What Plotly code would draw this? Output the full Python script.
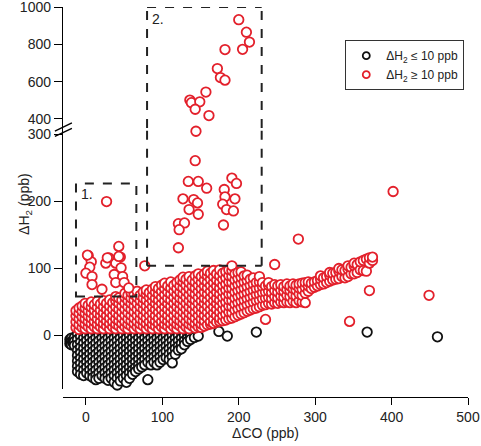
import plotly.graph_objects as go

# values; dense clouds as (dCO, [dH2 values]) columns
black_cols = [
    (-21, [-6, -12]), (-19, [-4, -9, -14]), (-17, [-7, -11]), (-15, [-3, -9, -15]),
    (-11, [2, -6, -14, -22, -30, -38, -46, -54]),
    (-7, [-2, -10, -18, -26, -34, -42, -50, -58]),
    (-3, [4, -4, -12, -20, -28, -36, -44, -52, -60]),
    (1, [0, -8, -16, -24, -32, -40, -48, -56]),
    (5, [4, -4, -12, -20, -28, -36, -44, -52, -60]),
    (9, [0, -8, -16, -24, -32, -40, -48, -56, -63]),
    (13, [4, -4, -12, -20, -28, -36, -44, -52, -60, -66]),
    (17, [0, -8, -16, -24, -32, -40, -48, -56, -64]),
    (21, [4, -4, -12, -20, -28, -36, -44, -52, -60]),
    (25, [0, -8, -16, -24, -32, -40, -48, -56, -64]),
    (29, [4, -4, -12, -20, -28, -36, -44, -52, -60, -67]),
    (33, [0, -8, -16, -24, -32, -40, -48, -56, -64]),
    (37, [4, -4, -12, -20, -28, -36, -44, -52, -60, -70]),
    (41, [0, -8, -16, -24, -32, -40, -48, -56, -64, -74]),
    (45, [4, -4, -12, -20, -28, -36, -44, -52, -60, -68]),
    (49, [0, -8, -16, -24, -32, -40, -48, -56, -64]),
    (53, [4, -4, -12, -20, -28, -36, -44, -52, -60, -70]),
    (57, [0, -8, -16, -24, -32, -40, -48, -56, -64]),
    (61, [4, -4, -12, -20, -28, -36, -44, -52, -58]),
    (65, [0, -8, -16, -24, -32, -40, -48, -54]),
    (69, [4, -4, -12, -20, -28, -36, -44, -50]),
    (73, [0, -8, -16, -24, -32, -40, -47]),
    (77, [4, -4, -12, -20, -28, -36, -44]),
    (81, [0, -8, -16, -24, -32, -40, -66]),
    (85, [4, -4, -12, -20, -28, -36, -44]),
    (89, [0, -8, -16, -24, -32, -40]),
    (93, [4, -4, -12, -20, -28, -36, -44]),
    (97, [0, -8, -16, -24, -32, -40]),
    (101, [4, -4, -12, -20, -28, -36]),
    (105, [0, -8, -16, -24, -33]),
    (109, [4, -4, -12, -20, -28, -36]),
    (113, [0, -8, -16, -24, -32, -41]),
    (117, [4, -4, -12, -20, -28]),
    (121, [0, -8, -16, -22]),
    (125, [4, -4, -12, -20]),
    (129, [0, -8, -14]),
    (133, [3, -4, -9]),
    (137, [0, -6]),
    (142, [-3]),
    (147, [-1]),
]
black_outliers = [(174, 6), (185, -1), (223, 5), (368, 5), (460, -2)]

red_cols = [
    (-13, [12, 20, 29, 37]), (-9, [9, 16, 25, 33, 41]), (-5, [12, 20, 28, 36, 44]),
    (-1, [10, 17, 25, 33, 41, 48]), (3, [13, 21, 29, 37, 45]),
    (7, [10, 18, 26, 34, 42, 50]), (11, [13, 21, 29, 38, 46]),
    (15, [10, 17, 25, 33, 42, 51]), (19, [13, 21, 30, 38, 47]),
    (23, [10, 18, 26, 34, 43, 52]), (27, [14, 22, 30, 39, 48]),
    (31, [10, 18, 26, 35, 44, 53]), (35, [13, 21, 30, 39, 49]),
    (39, [10, 17, 25, 34, 43, 52, 58]), (43, [14, 22, 30, 39, 48, 56]),
    (47, [10, 18, 26, 35, 44, 53]), (51, [13, 21, 30, 39, 48, 57, 63]),
    (55, [10, 17, 25, 34, 43, 52, 60]), (59, [14, 22, 30, 39, 48, 56, 64]),
    (63, [10, 18, 26, 35, 44, 53, 61]), (67, [13, 21, 30, 39, 48, 57, 66]),
    (71, [10, 17, 25, 34, 43, 52, 60]), (75, [14, 22, 30, 39, 48, 56, 65]),
    (79, [10, 18, 26, 35, 44, 53, 62, 68]), (83, [13, 21, 30, 39, 48, 57, 64]),
    (87, [10, 17, 25, 34, 43, 52, 60, 69]), (91, [14, 22, 30, 39, 48, 56, 65, 73]),
    (95, [10, 18, 26, 35, 44, 53, 62, 70]), (99, [13, 21, 30, 39, 48, 57, 66, 75]),
    (103, [10, 17, 25, 34, 43, 52, 61, 70, 78]), (107, [14, 22, 30, 39, 48, 56, 65, 74]),
    (111, [10, 18, 26, 35, 44, 53, 62, 71, 80]), (115, [13, 21, 30, 39, 48, 57, 66, 75]),
    (119, [10, 17, 25, 34, 43, 52, 61, 70, 79]), (123, [14, 22, 30, 39, 48, 56, 65, 74, 83]),
    (127, [10, 18, 26, 35, 44, 53, 62, 71, 80, 87]), (131, [13, 21, 30, 39, 48, 57, 66, 75, 84]),
    (135, [10, 17, 25, 34, 43, 52, 61, 70, 79, 88]), (139, [14, 22, 30, 39, 48, 56, 65, 74, 83]),
    (143, [11, 18, 26, 35, 44, 53, 62, 71, 80, 89]), (147, [13, 21, 30, 39, 48, 57, 66, 75, 84, 92]),
    (151, [12, 17, 25, 34, 43, 52, 61, 70, 79, 88]), (155, [14, 22, 30, 39, 48, 56, 65, 74, 83, 92]),
    (159, [16, 26, 35, 44, 53, 62, 71, 80, 89, 96]), (163, [17, 21, 30, 39, 48, 57, 66, 75, 84, 93]),
    (167, [18, 25, 34, 43, 52, 61, 70, 79, 88, 97]), (171, [20, 30, 39, 48, 56, 65, 74, 83, 92]),
    (175, [21, 26, 35, 44, 53, 62, 71, 80, 89, 98]), (179, [22, 30, 39, 48, 57, 66, 75, 84, 93]),
    (183, [23, 32, 41, 50, 59, 68, 77, 86, 95]), (187, [25, 35, 44, 53, 62, 71, 80, 89, 98]),
    (191, [26, 34, 43, 52, 61, 70, 79, 88, 97, 104]), (195, [28, 38, 47, 56, 65, 74, 83, 92]),
    (199, [30, 40, 49, 58, 67, 76, 85, 94]), (203, [32, 42, 51, 60, 69, 78, 87, 95]),
    (207, [34, 44, 53, 62, 71, 80, 89]), (211, [36, 46, 55, 64, 73, 82, 90]),
    (215, [38, 48, 57, 66, 75, 84]), (219, [40, 50, 59, 68, 77, 86]),
    (223, [41, 52, 61, 70, 79]), (227, [43, 53, 62, 71, 80, 88]),
    (231, [45, 55, 64, 73, 79]), (235, [46, 56, 65, 74]), (239, [48, 57, 66, 75, 79]),
    (243, [47, 55, 64, 73]), (247, [49, 58, 67, 76]), (251, [48, 56, 65, 74]),
    (255, [50, 59, 68, 76]), (259, [49, 57, 66, 73]), (263, [50, 60, 69, 77]),
    (267, [49, 58, 67, 74]), (271, [51, 61, 70, 77]), (275, [49, 59, 68, 75]),
    (279, [52, 62, 71, 77]), (283, [50, 60, 69, 78]), (287, [49, 63, 72, 79]),
    (291, [66, 74, 80]), (295, [70, 78]), (299, [72, 80]), (303, [74, 82]),
    (307, [76, 84, 89]), (311, [77, 86]), (315, [79, 88]), (319, [81, 90, 94]),
    (323, [83, 93]), (327, [84, 94]), (331, [85, 96, 100]), (335, [88, 98]),
    (339, [86, 97]), (343, [88, 99, 104]), (347, [92, 102]), (351, [92, 104, 108]),
    (355, [94, 106]), (359, [98, 110]), (363, [97, 112]), (367, [96, 114]),
    (371, [108, 116]), (375, [112, 117]),
]
red_box1 = [
    (27, 200), (3, 119), (43, 133), (7, 110), (30, 116), (45, 117),
    (26, 108), (39, 108), (5, 102), (2, 120), (28, 116), (43, 118),
    (46, 101), (0, 93), (8, 88), (37, 91), (48, 88), (8, 76),
    (39, 79), (50, 79), (21, 69), (56, 71),
]
red_box2 = [
    (200, 932), (210, 865), (214, 812), (205, 773), (182, 772),
    (172, 670), (176, 622), (182, 608), (157, 544), (136, 501),
    (138, 487), (149, 492), (143, 452), (161, 418),
    (144, 305), (143, 261), (134, 230), (147, 230), (158, 220),
    (127, 204), (141, 203), (146, 198), (135, 188), (147, 181),
    (121, 167), (129, 168), (122, 158), (121, 131),
    (191, 235), (197, 227), (181, 218), (182, 207), (195, 204),
    (179, 196), (184, 188), (193, 186), (180, 165),
]
red_outliers = [
    (77, 104), (247, 106), (402, 215), (278, 144),
    (371, 67), (449, 60), (345, 21), (235, 24),
]

BLACK = "#111111"
RED = "#e3202b"
LOW_TOP, HIGH_BOTTOM = 310, 352
NAME_LO = "ΔH<sub>2</sub> ≤ 10 ppb"
NAME_HI = "ΔH<sub>2</sub> ≥ 10 ppb"


def flatten(cols):
    return [(x, y) for x, ys in cols for y in ys]


black = flatten(black_cols) + black_outliers
red = flatten(red_cols) + red_box1 + red_box2 + red_outliers
red_low = [p for p in red if p[1] <= LOW_TOP]
red_high = [p for p in red if p[1] > LOW_TOP]


def dots(pts, color, yaxis="y"):
    return go.Scatter(
        x=[p[0] for p in pts], y=[p[1] for p in pts], yaxis=yaxis,
        mode="markers", showlegend=False, cliponaxis=False, hoverinfo="x+y",
        marker=dict(symbol="circle", size=9.5, color="white",
                    line=dict(color=color, width=1.8)),
    )


def legend_item(color, name):
    return go.Scatter(
        x=[None], y=[None], mode="markers", name=name,
        marker=dict(symbol="circle", size=7, color="white",
                    line=dict(color=color, width=1.8)),
    )


fig = go.Figure()
fig.add_trace(dots(black, BLACK))
fig.add_trace(dots(red_low, RED))
fig.add_trace(dots(red_high, RED, yaxis="y2"))
fig.add_trace(legend_item(BLACK, NAME_LO))
fig.add_trace(legend_item(RED, NAME_HI))

axis_style = dict(showline=True, linecolor="black", linewidth=1.4, ticks="outside",
                  tickcolor="black", tickwidth=1.4, showgrid=False, zeroline=False,
                  automargin=False, ticklabeloverflow="allow",
                  tickfont=dict(size=14, color="#222"))

fig.update_layout(
    template="none",
    width=481, height=446,
    margin=dict(l=63, r=13, t=7, b=49),
    plot_bgcolor="white", paper_bgcolor="white",
    font=dict(family="Arial, Liberation Sans, sans-serif", size=14, color="#222"),
    xaxis=dict(range=[-30, 500], tickvals=[0, 100, 200, 300, 400, 500], ticklen=7,
               anchor="free", position=0,
               title=dict(text="ΔCO (ppb)", standoff=4, font=dict(size=14)),
               **axis_style),
    yaxis=dict(domain=[0.0205, 0.69], range=[-80, LOW_TOP], tickvals=[0, 100, 200, 300],
               ticklen=8, anchor="x", **axis_style),
    yaxis2=dict(domain=[0.69, 1], range=[HIGH_BOTTOM, 1000],
                tickvals=[400, 600, 800, 1000], ticklen=8, anchor="x", **axis_style),
    legend=dict(x=0.697, y=0.915, xanchor="left", yanchor="top",
                bordercolor="#333", borderwidth=1, bgcolor="white",
                font=dict(size=12), tracegroupgap=0, itemwidth=30),
    showlegend=True,
)

dash = dict(color="#222", width=2, dash="dash")
# box 1
fig.add_shape(type="rect", xref="x", yref="y", x0=-13, x1=66, y0=58, y1=227, line=dash)
# box 2 crosses the axis break
for xx in (80, 230):
    fig.add_shape(type="line", xref="x", yref="y", x0=xx, x1=xx, y0=104, y1=LOW_TOP, line=dash)
    fig.add_shape(type="line", xref="x", yref="y2", x0=xx, x1=xx, y0=HIGH_BOTTOM, y1=1000, line=dash)
fig.add_shape(type="line", xref="x", yref="y", x0=80, x1=230, y0=104, y1=104, line=dash)
fig.add_shape(type="line", xref="x", yref="y2", x0=80, x1=230, y0=1000, y1=1000, line=dash)

# axis break marks
for dy in (0.006, -0.008):
    fig.add_shape(type="line", xref="paper", yref="paper",
                  x0=-0.02, x1=0.022, y0=0.676 + dy, y1=0.697 + dy,
                  line=dict(color="black", width=1.4))

fig.add_annotation(x=-9, y=212, xref="x", yref="y", text="1.", showarrow=False,
                   xanchor="left", font=dict(size=14))
fig.add_annotation(x=84, y=935, xref="x", yref="y2", text="2.", showarrow=False,
                   xanchor="left", font=dict(size=14))
fig.add_annotation(x=-0.094, y=0.495, xref="paper", yref="paper",
                   xanchor="center", yanchor="middle",
                   text="ΔH<sub>2</sub> (ppb)", textangle=-90, showarrow=False,
                   font=dict(size=14))

fig.write_html("out.html", config={"displayModeBar": False},
               post_script="document.body.style.margin='0';")
